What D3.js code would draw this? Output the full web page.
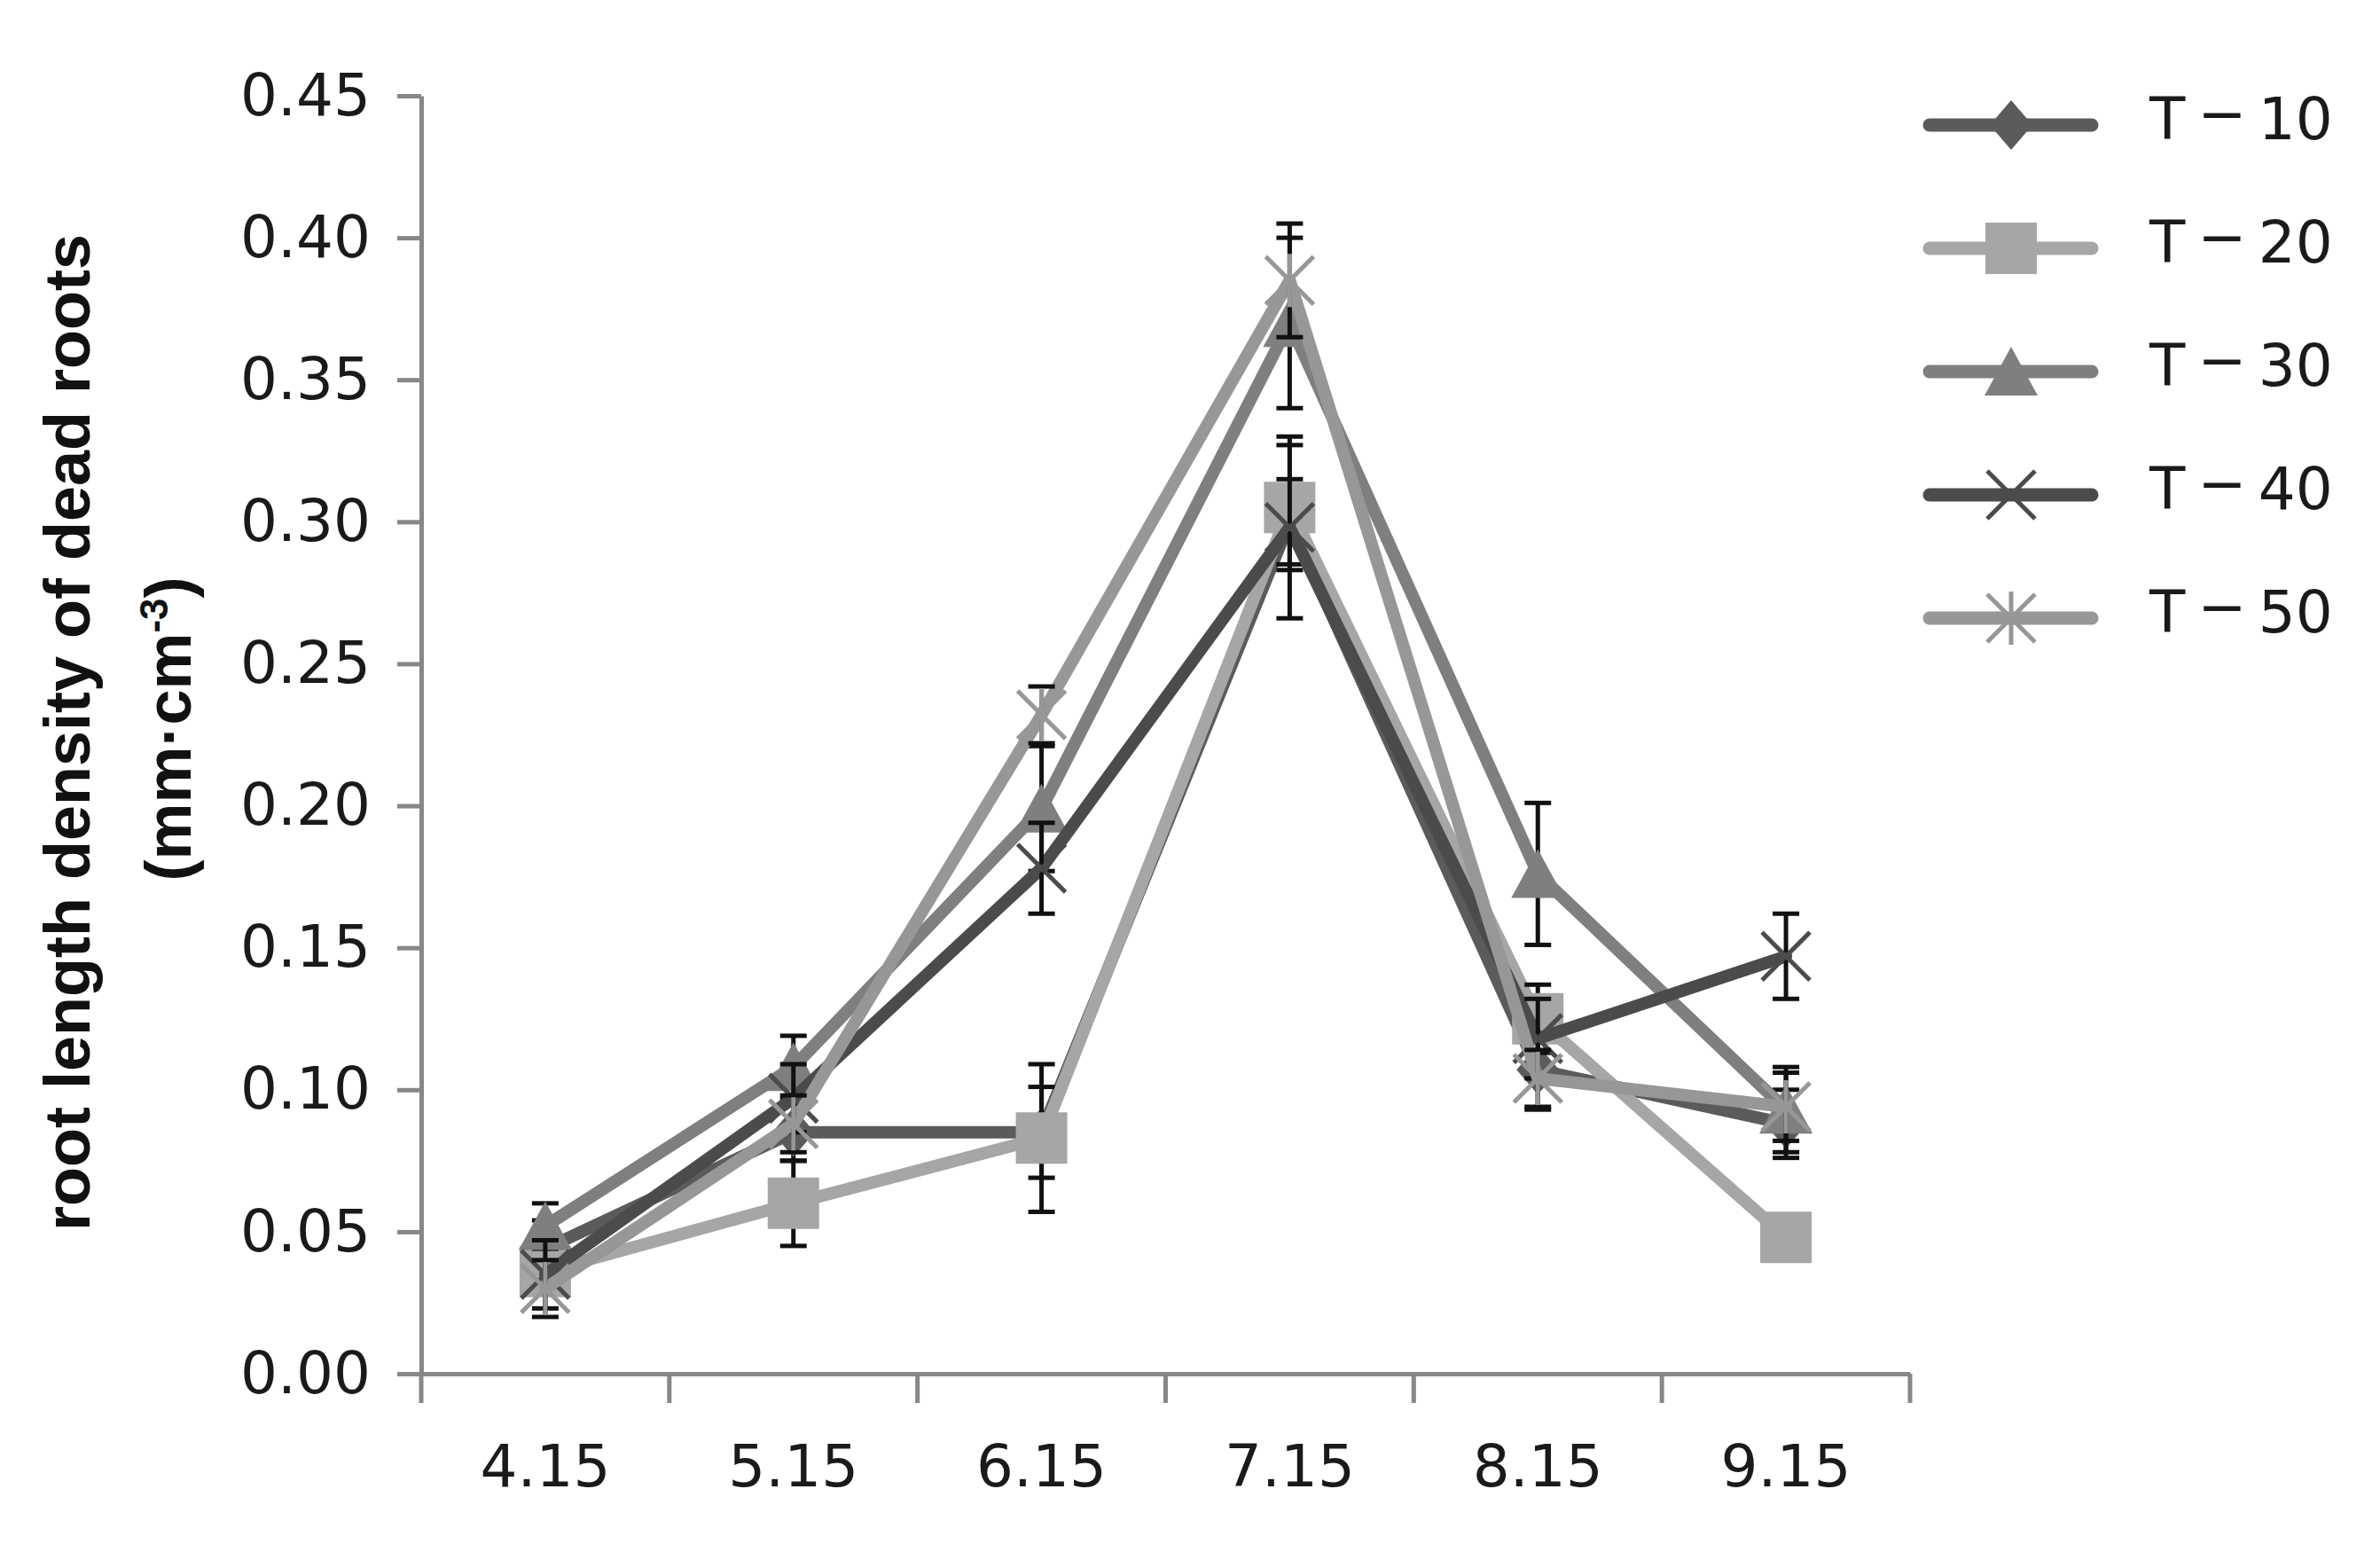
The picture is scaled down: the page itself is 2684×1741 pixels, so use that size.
<!DOCTYPE html>
<html>
<head>
<meta charset="utf-8">
<script src="https://cdn.jsdelivr.net/npm/d3@7"></script>
<style>
  body { margin: 0; background: #ffffff; }
  .tickText { font-family: "DejaVu Sans", Verdana, sans-serif; font-size: 66px; fill: #1a1a1a; }
  .axisTitle { font-family: "Liberation Sans", Arial, sans-serif; font-weight: bold; font-size: 72px; fill: #111111; }
</style>
</head>
<body>
<div id="chart"></div>
<script>
// sampling dates
var categories = ["4.15", "5.15", "6.15", "7.15", "8.15", "9.15"];
var seriesNames = ["T－10", "T－20", "T－30", "T－40", "T－50"];
var yTicks = [0, 0.05, 0.10, 0.15, 0.20, 0.25, 0.30, 0.35, 0.40, 0.45];

// root length density of dead roots (mm·cm-3)
var t10 = [0.044, 0.085, 0.085, 0.300, 0.107, 0.088];
var t20 = [0.036, 0.060, 0.083, 0.305, 0.125, 0.048];
var t30 = [0.052, 0.108, 0.199, 0.370, 0.176, 0.093];
var t40 = [0.035, 0.097, 0.178, 0.298, 0.118, 0.147];
var t50 = [0.030, 0.088, 0.232, 0.385, 0.104, 0.094];

// error bar half lengths
var e10 = [0.010, 0.010, 0.016, 0.015, 0.014, 0.012];
var e20 = [0.008, 0.015, 0.026, 0.022, 0.012, 0.005];
var e30 = [0.008, 0.011, 0.022, 0.030, 0.025, 0.015];
var e40 = [0.012, 0.012, 0.016, 0.032, 0.014, 0.015];
var e50 = [0.010, 0.010, 0.010, 0.020, 0.010, 0.012];

var svgWidth = 2684;
var svgHeight = 1741;

var margin = { top: 108, right: 530, bottom: 192, left: 475 };
var width = svgWidth - margin.left - margin.right;
var height = svgHeight - margin.top - margin.bottom;

var colors = ["#5b5b5b", "#a6a6a6", "#7f7f7f", "#4b4b4b", "#979797"];
var markers = ["diamond", "square", "triangle", "times", "asterisk"];

var series = [t10, t20, t30, t40, t50].map(function(vals, i) {
  var errs = [e10, e20, e30, e40, e50][i];
  return {
    name: seriesNames[i],
    color: colors[i],
    marker: markers[i],
    points: vals.map(function(v, j) { return { cat: categories[j], value: v, err: errs[j] }; })
  };
});

var svg = d3.select("#chart")
  .append("svg")
  .attr("width", svgWidth)
  .attr("height", svgHeight);

var chart = svg.append("g")
  .attr("transform", `translate(${margin.left}, ${margin.top})`);

var xBand = d3.scaleBand()
  .domain(categories)
  .range([0, width])
  .padding(0);

var yLinear = d3.scaleLinear()
  .domain([0, 0.45])
  .range([height, 0]);

var cx = function(c) { return xBand(c) + xBand.bandwidth() / 2; };

// marker outlines, centred on 0,0
function markerPath(kind) {
  if (kind == "diamond") return "M0,-28L24,0L0,28L-24,0Z";
  if (kind == "square") return "M-29,-29h58v58h-58Z";
  if (kind == "triangle") return "M0,-28L30,27L-30,27Z";
  if (kind == "times") return "M-27,-27L27,27M27,-27L-27,27";
  return "M-27,-27L27,27M27,-27L-27,27M0,-30L0,30";
}
function isStroked(kind) { return kind == "times" || kind == "asterisk"; }

// axes
var axisColor = "#878787";

var yAxis = chart.append("g")
  .call(d3.axisLeft(yLinear)
    .tickValues(yTicks)
    .tickFormat(d3.format(".2f"))
    .tickSizeInner(27)
    .tickSizeOuter(0)
    .tickPadding(30));
yAxis.select(".domain").attr("stroke", axisColor).attr("stroke-width", 5);
yAxis.selectAll(".tick line").attr("stroke", axisColor).attr("stroke-width", 5);
yAxis.selectAll(".tick text").attr("class", "tickText").attr("font-size", null).attr("font-family", null);

var xAxis = chart.append("g")
  .attr("transform", `translate(0, ${height})`)
  .call(d3.axisBottom(xBand).tickSize(0).tickPadding(80));
xAxis.select(".domain").attr("stroke", axisColor).attr("stroke-width", 5);
xAxis.selectAll(".tick text").attr("class", "tickText").attr("font-size", null).attr("font-family", null);

// boundary ticks between the dates
var bounds = categories.map(function(c) { return xBand(c); }).concat([xBand.range()[1]]);
xAxis.selectAll("line.bound")
  .data(bounds)
  .enter()
  .append("line")
  .attr("class", "bound")
  .attr("x1", d => d)
  .attr("x2", d => d)
  .attr("y1", 0)
  .attr("y2", 33)
  .attr("stroke", axisColor)
  .attr("stroke-width", 5);

// series
var lineGen = d3.line()
  .x(d => cx(d.cat))
  .y(d => yLinear(d.value));

series.forEach(function(s) {
  var g = chart.append("g");

  g.append("path")
    .datum(s.points)
    .attr("d", lineGen)
    .attr("fill", "none")
    .attr("stroke", s.color)
    .attr("stroke-width", 14)
    .attr("stroke-linejoin", "round")
    .attr("stroke-linecap", "round");

  var bars = g.selectAll("g.err")
    .data(s.points)
    .enter()
    .append("g")
    .attr("class", "err")
    .attr("stroke", "#111111")
    .attr("stroke-width", 5);
  bars.append("line")
    .attr("x1", d => cx(d.cat)).attr("x2", d => cx(d.cat))
    .attr("y1", d => yLinear(d.value - d.err)).attr("y2", d => yLinear(d.value + d.err));
  bars.append("line")
    .attr("x1", d => cx(d.cat) - 15).attr("x2", d => cx(d.cat) + 15)
    .attr("y1", d => yLinear(d.value + d.err)).attr("y2", d => yLinear(d.value + d.err));
  bars.append("line")
    .attr("x1", d => cx(d.cat) - 15).attr("x2", d => cx(d.cat) + 15)
    .attr("y1", d => yLinear(d.value - d.err)).attr("y2", d => yLinear(d.value - d.err));

  g.selectAll("path.marker")
    .data(s.points)
    .enter()
    .append("path")
    .attr("class", "marker")
    .attr("transform", d => `translate(${cx(d.cat)}, ${yLinear(d.value)})`)
    .attr("d", markerPath(s.marker))
    .attr("fill", isStroked(s.marker) ? "none" : s.color)
    .attr("stroke", isStroked(s.marker) ? s.color : "none")
    .attr("stroke-width", 5);
});

// y axis title
chart.append("text")
  .attr("class", "axisTitle")
  .attr("transform", `translate(${101 - margin.left}, ${826 - margin.top}) rotate(-90)`)
  .attr("text-anchor", "middle")
  .text("root length density of dead roots");

var unit = chart.append("text")
  .attr("class", "axisTitle")
  .attr("transform", `translate(${215 - margin.left}, ${822 - margin.top}) rotate(-90)`)
  .attr("text-anchor", "middle");
unit.append("tspan").text("(mm·cm");
unit.append("tspan").attr("font-size", "44px").attr("dy", "-26").text("-3");
unit.append("tspan").attr("dy", "26").text(")");

// legend
var legend = svg.append("g")
  .attr("transform", "translate(2176, 141)");

var rows = legend.selectAll("g.row")
  .data(series)
  .enter()
  .append("g")
  .attr("class", "row")
  .attr("transform", (d, i) => `translate(0, ${i * 139})`);

rows.append("line")
  .attr("x1", 0).attr("x2", 183)
  .attr("y1", 0).attr("y2", 0)
  .attr("stroke", d => d.color)
  .attr("stroke-width", 15)
  .attr("stroke-linecap", "round");

rows.append("path")
  .attr("transform", "translate(92, 0)")
  .attr("d", d => markerPath(d.marker))
  .attr("fill", d => isStroked(d.marker) ? "none" : d.color)
  .attr("stroke", d => isStroked(d.marker) ? d.color : "none")
  .attr("stroke-width", 5);

// "T", a slightly raised long dash, then the number
var label = rows.append("text")
  .attr("class", "tickText")
  .attr("x", 248)
  .attr("y", 16);
label.append("tspan").text(d => d.name.split("－")[0]);
label.append("tspan").attr("dx", 14).attr("dy", -6).text("−");
label.append("tspan").attr("dx", 13).attr("dy", 6).text(d => d.name.split("－")[1]);
</script>
</body>
</html>
